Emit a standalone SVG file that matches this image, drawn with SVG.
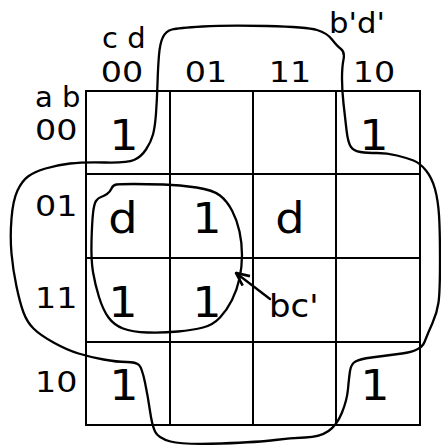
<svg xmlns="http://www.w3.org/2000/svg" width="441" height="446" viewBox="0 0 441 446">
<style>
.grid{stroke:#000;stroke-width:2;fill:none}
.loop{stroke:#000;stroke-width:2.3;fill:none;stroke-linejoin:round;stroke-linecap:round}
.lbl{font-family:"DejaVu Sans",sans-serif;font-size:29px;fill:#000}
.cell{font-family:"DejaVu Sans",sans-serif;font-size:42px;fill:#000;text-anchor:middle}
.mid{text-anchor:middle}
</style>
<defs>
<marker id="arr" viewBox="0 0 16 16" refX="15" refY="8" markerWidth="16" markerHeight="16" markerUnits="userSpaceOnUse" orient="auto">
<path d="M2,2 L15,8 L2,14" fill="none" stroke="#000" stroke-width="2.6" stroke-linejoin="miter"/>
</marker>
</defs>
<rect width="441" height="446" fill="#fff"/>
<g id="grid">
<rect class="grid" x="86" y="91" width="334" height="334"/>
<line class="grid" x1="170" y1="91" x2="170" y2="425"/>
<line class="grid" x1="253" y1="91" x2="253" y2="425"/>
<line class="grid" x1="336" y1="91" x2="336" y2="425"/>
<line class="grid" x1="86" y1="174" x2="420" y2="174"/>
<line class="grid" x1="86" y1="258" x2="420" y2="258"/>
<line class="grid" x1="86" y1="342" x2="420" y2="342"/>
</g>
<g id="headers">
<text class="lbl" x="102" y="48">c d</text>
<text class="lbl mid" transform="translate(122,82) scale(1.15,1)">00</text>
<text class="lbl mid" transform="translate(206,82) scale(1.15,1)">01</text>
<text class="lbl mid" transform="translate(290,82) scale(1.15,1)">11</text>
<text class="lbl mid" transform="translate(374,82) scale(1.15,1)">10</text>
<text class="lbl" x="35" y="107">a b</text>
<text class="lbl" transform="translate(35,140) scale(1.15,1)">00</text>
<text class="lbl" transform="translate(35,216) scale(1.15,1)">01</text>
<text class="lbl" transform="translate(35,308) scale(1.15,1)">11</text>
<text class="lbl" transform="translate(35,392) scale(1.15,1)">10</text>
</g>
<g id="cells">
<text class="cell" transform="translate(124,150) scale(1.1,1)">1</text>
<text class="cell" transform="translate(374,150) scale(1.1,1)">1</text>
<text class="cell" transform="translate(123,233) scale(1.1,1)">d</text>
<text class="cell" transform="translate(207,233) scale(1.1,1)">1</text>
<text class="cell" transform="translate(290,233) scale(1.1,1)">d</text>
<text class="cell" transform="translate(123,317) scale(1.1,1)">1</text>
<text class="cell" transform="translate(207,317) scale(1.1,1)">1</text>
<text class="cell" transform="translate(124,400) scale(1.1,1)">1</text>
<text class="cell" transform="translate(375,400) scale(1.1,1)">1</text>
</g>
<g id="connectors">
<path id="loop-bd" class="loop" d="M153,134.5 Q155,127 156,113.5 Q157,100 157.5,83.5 Q158,67 159,55 Q160,43 163,37 Q166,31 172,29.5 Q178,28 202.5,26.5 Q227,25 267,26 Q307,27 317,30 Q327,33 332,39.5 Q337,46 341,49 Q345,52 343.5,59.5 Q342,67 342,78.5 Q342,90 343.5,103.5 Q345,117 346.5,130 Q348,143 351,147 Q354,151 360.5,152 Q367,153 377,153 Q387,153 397,155.5 Q407,158 413.5,160.5 Q420,163 426,170.5 Q432,178 435,189 Q438,200 439,215 Q440,230 440,261 Q440,292 438.5,302.5 Q437,313 432.5,323 Q428,333 424.5,342 Q421,351 402,353.5 Q383,356 371.5,357.5 Q360,359 355.5,361.5 Q351,364 350,371 Q349,378 348,389 Q347,400 342,412.5 Q337,425 328.5,431 Q320,437 305,437.5 Q290,438 275,440 Q260,442 221.5,443.5 Q183,445 170.5,441.5 Q158,438 155,431.5 Q152,425 150,411 Q148,397 145,382.5 Q142,368 139,365 Q136,362 126.5,362 Q117,362 103.5,359.5 Q90,357 78.5,353.5 Q67,350 53.5,342.5 Q40,335 33.5,328.5 Q27,322 23.5,312.5 Q20,303 16.5,286.5 Q13,270 11.5,253.5 Q10,237 11.5,218.5 Q13,200 17.5,190.5 Q22,181 28,176.5 Q34,172 45.5,168.5 Q57,165 70,163.5 Q83,162 105,162.5 Q127,163 134,160 Q141,157 146,149.5 Q151,142 153,134.5 Z"/>
<path id="loop-bc" class="loop" d="M116.5,184.5 Q113,185 111.5,188.5 Q110,192 107,194 Q104,196 101,197 Q98,198 96,201 Q94,204 93,213.5 Q92,223 91.5,241.5 Q91,260 93,272 Q95,284 99,297 Q103,310 108.5,317.5 Q114,325 123,328.5 Q132,332 147.5,332.5 Q163,333 178,331.5 Q193,330 203,327.5 Q213,325 220,317.5 Q227,310 232,300 Q237,290 239.5,278.5 Q242,267 242,255 Q242,243 239.5,231.5 Q237,220 232,210.5 Q227,201 220,195.5 Q213,190 196.5,187.5 Q180,185 163.5,184.5 Q147,184 133.5,184 Q120,184 116.5,184.5 Z"/>
<line class="loop" x1="270" y1="299" x2="236" y2="273" marker-end="url(#arr)"/>
</g>
<g id="labels">
<text class="lbl" transform="translate(329,33) scale(1.06,1)">b'd'</text>
<text class="lbl" transform="translate(269,317) scale(1.06,1)" style="font-size:32px">bc'</text>
</g>
</svg>
